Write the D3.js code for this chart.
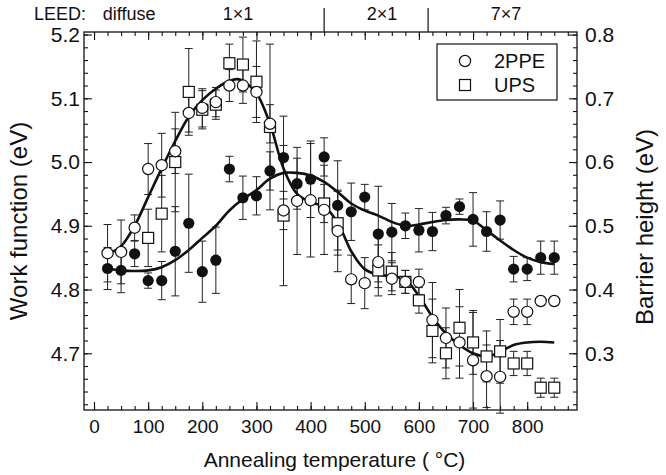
<!DOCTYPE html>
<html>
<head>
<meta charset="utf-8">
<script src="https://cdn.jsdelivr.net/npm/d3@7"></script>
<style>
  body { margin: 0; background: #fff; }
  text { font-family: "Liberation Sans", Arial, sans-serif; fill: #111; }
  .tick text { font-size: 19px; }
  .yaxis .tick text { font-size: 21px; }
  .label { font-size: 20px; }
  .title { font-size: 21px; }
  .vtitle { font-size: 24px; }
  .leed { font-size: 18px; }
</style>
</head>
<body>
<script>
//Global variables
const width = 666;
const height = 475;
const plotLeft = 84, plotRight = 577, plotTop = 32, plotBottom = 410;

//2PPE work function (open circles)
const ppeTemps = [25, 50, 75, 100, 125, 150, 175, 200, 225, 250, 275, 300, 325, 350, 375, 400, 425,
  450, 475, 500, 525, 550, 575, 600, 625, 650, 675, 700, 725, 750, 775, 800, 825, 850];
const ppeValues = [4.857, 4.859, 4.897, 4.989, 4.995, 5.017, 5.077, 5.085, 5.094, 5.12, 5.12, 5.11, 5.06,
  4.924, 4.939, 4.94, 4.925, 4.892, 4.816, 4.81, 4.843, 4.817, 4.812, 4.812, 4.752, 4.724, 4.717,
  4.689, 4.664, 4.663, 4.765, 4.765, 4.782, 4.782];
const ppeErr = [0.045, 0.05, 0.02, 0.04, 0.05, 0.035, 0.03, 0.03, 0.023, 0.025, 0.028, 0.04, 0.03,
  0.03, 0.084, 0.089, 0.07, 0.064, 0.038, 0.04, 0.04, 0.025, 0.018, 0.02, 0.059, 0.047, 0.056,
  0.075, 0.049, 0.057, 0.02, 0.02, 0, 0];

//UPS work function (open squares)
const upsTemps = [100, 125, 150, 175, 200, 225, 250, 275, 300, 325, 350, 425, 450, 525, 550, 575,
  600, 625, 650, 675, 700, 725, 750, 775, 800, 825, 850];
const upsValues = [4.881, 4.919, 5.0, 5.11, 5.082, 5.09, 5.155, 5.153, 5.126, 5.055, 4.916, 4.935,
  4.904, 4.83, 4.828, 4.812, 4.783, 4.735, 4.70, 4.74, 4.717, 4.695, 4.703, 4.684, 4.684, 4.646, 4.646];
const upsErr = [0.045, 0.06, 0.078, 0.068, 0.03, 0.023, 0.03, 0.043, 0.064, 0.13, 0.11, 0.03, 0.05,
  0.04, 0.03, 0.018, 0.02, 0.05, 0.04, 0.06, 0.05, 0.04, 0.05, 0.019, 0.019, 0.015, 0.015];

//Barrier height (filled circles, right axis)
const barrierTemps = ppeTemps;
const barrierValues = [0.433, 0.43, 0.456, 0.414, 0.414, 0.46, 0.504, 0.428, 0.446, 0.589, 0.544,
  0.547, 0.586, 0.607, 0.566, 0.573, 0.608, 0.532, 0.522, 0.545, 0.487, 0.49, 0.50, 0.493, 0.491,
  0.516, 0.53, 0.51, 0.491, 0.509, 0.432, 0.432, 0.45, 0.45];
const barrierErr = [0.033, 0.035, 0.02, 0.012, 0.03, 0.07, 0.077, 0.048, 0.052, 0.02, 0.034, 0.03,
  0.03, 0.065, 0.04, 0.06, 0.03, 0.07, 0.045, 0.02, 0.075, 0.045, 0.02, 0.034, 0.03, 0.013, 0.012,
  0.042, 0.031, 0.03, 0.02, 0.018, 0.026, 0.026];

//Smooth guide curves
const fitWorkTemps = [30, 50, 75, 100, 125, 150, 175, 200, 225, 250, 265, 275, 300, 325, 350, 375, 400,
  425, 450, 475, 500, 525, 550, 575, 600, 625, 650, 675, 700, 725, 750, 775, 800, 825, 850];
const fitWork = [4.857, 4.868, 4.9, 4.945, 4.99, 5.033, 5.071, 5.097, 5.115, 5.127, 5.13, 5.127, 5.108,
  5.06, 4.99, 4.95, 4.937, 4.93, 4.905, 4.86, 4.832, 4.823, 4.821, 4.815, 4.79, 4.757, 4.731, 4.713,
  4.70, 4.695, 4.702, 4.713, 4.717, 4.718, 4.717];
const fitBarrierTemps = [25, 50, 75, 100, 125, 150, 175, 200, 225, 250, 275, 300, 325, 350, 375, 400,
  425, 450, 475, 500, 525, 550, 575, 600, 625, 650, 675, 700, 725, 750, 775, 800, 825, 850];
const fitBarrier = [0.433, 0.43, 0.429, 0.43, 0.435, 0.446, 0.462, 0.481, 0.50, 0.524, 0.542, 0.556,
  0.574, 0.583, 0.583, 0.579, 0.569, 0.553, 0.535, 0.524, 0.516, 0.506, 0.50, 0.502, 0.506, 0.509,
  0.51, 0.508, 0.493, 0.477, 0.462, 0.45, 0.443, 0.44];

//LEED phases along the top
const leedBounds = [425, 617];
const leedNames = ["diffuse", "1×1", "2×1", "7×7"];
const leedCenters = [65, 266, 532, 761];

//Tick values
const xMajor = [0, 100, 200, 300, 400, 500, 600, 700, 800];
const xMinor = d3.range(0, 876, 25);
const yMajor = [4.7, 4.8, 4.9, 5.0, 5.1, 5.2];
const yMinor = d3.range(4.62, 5.201, 0.02);
const bMajor = [0.3, 0.4, 0.5, 0.6, 0.7, 0.8];
const bMinor = d3.range(0.22, 0.801, 0.02);

//Scales
const xScale = d3.scaleLinear().domain([-18.5, 892]).range([plotLeft, plotRight]);
const yScale = d3.scaleLinear().domain([4.611, 5.204]).range([plotBottom, plotTop]);
const bScale = d3.scaleLinear().domain([0.211, 0.804]).range([plotBottom, plotTop]);

//SVG element
const svg = d3.select("body")
  .append("svg")
  .attr("width", width)
  .attr("height", height);

//Axes (ticks point inward)
function addAxis(axis, transform, cls) {
  const g = svg.append("g").attr("class", cls || "").attr("transform", transform).call(axis);
  g.select(".domain").remove();
  g.selectAll(".tick line").attr("stroke", "#111").attr("stroke-width", 1.1);
  return g;
}

addAxis(d3.axisBottom(xScale).tickValues(xMinor).tickSize(-4).tickFormat(""), `translate(0,${plotBottom})`);
addAxis(d3.axisBottom(xScale).tickValues(xMajor).tickSize(-8).tickPadding(10).tickFormat(d3.format("d")),
  `translate(0,${plotBottom})`);
addAxis(d3.axisTop(xScale).tickValues(xMinor).tickSize(-4).tickFormat(""), `translate(0,${plotTop})`);
addAxis(d3.axisTop(xScale).tickValues(xMajor).tickSize(-8).tickFormat(""), `translate(0,${plotTop})`);

addAxis(d3.axisLeft(yScale).tickValues(yMinor).tickSize(-4).tickFormat(""), `translate(${plotLeft},0)`);
addAxis(d3.axisLeft(yScale).tickValues(yMajor).tickSize(-8).tickPadding(4).tickFormat(d3.format(".1f")),
  `translate(${plotLeft},0)`, "yaxis");
addAxis(d3.axisRight(bScale).tickValues(bMinor).tickSize(-4).tickFormat(""), `translate(${plotRight},0)`);
addAxis(d3.axisRight(bScale).tickValues(bMajor).tickSize(-8).tickPadding(8).tickFormat(d3.format(".1f")),
  `translate(${plotRight},0)`, "yaxis");

//Frame
svg.append("rect")
  .attr("x", plotLeft)
  .attr("y", plotTop)
  .attr("width", plotRight - plotLeft)
  .attr("height", plotBottom - plotTop)
  .attr("fill", "none")
  .attr("stroke", "#111")
  .attr("stroke-width", 1.3);

//Build point rows
const ppe = ppeTemps.map((t, i) => ({ t, v: ppeValues[i], e: ppeErr[i] }));
const ups = upsTemps.map((t, i) => ({ t, v: upsValues[i], e: upsErr[i] }));
const barrier = barrierTemps.map((t, i) => ({ t, v: barrierValues[i], e: barrierErr[i] }));

//Error bars
const cap = 4;
function errorBars(rows, scale) {
  const g = svg.append("g").attr("stroke", "#222").attr("stroke-width", 1).attr("fill", "none");
  rows.filter(d => d.e > 0).forEach(d => {
    const x = xScale(d.t), y1 = scale(d.v - d.e), y2 = scale(d.v + d.e);
    g.append("line").attr("x1", x).attr("x2", x).attr("y1", y1).attr("y2", y2);
    g.append("line").attr("x1", x - cap).attr("x2", x + cap).attr("y1", y1).attr("y2", y1);
    g.append("line").attr("x1", x - cap).attr("x2", x + cap).attr("y1", y2).attr("y2", y2);
  });
}
errorBars(ups, yScale);
errorBars(ppe, yScale);
errorBars(barrier, bScale);

//Guide curves
const lineWork = d3.line()
  .x((d, i) => xScale(fitWorkTemps[i]))
  .y(d => yScale(d))
  .curve(d3.curveCatmullRom);

const lineBarrier = d3.line()
  .x((d, i) => xScale(fitBarrierTemps[i]))
  .y(d => bScale(d))
  .curve(d3.curveCatmullRom);

svg.append("path")
  .attr("d", lineWork(fitWork))
  .attr("fill", "none")
  .attr("stroke", "#111")
  .attr("stroke-width", 2.6);

svg.append("path")
  .attr("d", lineBarrier(fitBarrier))
  .attr("fill", "none")
  .attr("stroke", "#111")
  .attr("stroke-width", 2.6);

//Markers
const sq = 11;
svg.append("g").selectAll("rect")
  .data(ups)
  .join("rect")
  .attr("x", d => xScale(d.t) - sq / 2)
  .attr("y", d => yScale(d.v) - sq / 2)
  .attr("width", sq)
  .attr("height", sq)
  .attr("fill", "#fff")
  .attr("stroke", "#111")
  .attr("stroke-width", 1.2);

svg.append("g").selectAll("circle")
  .data(ppe)
  .join("circle")
  .attr("cx", d => xScale(d.t))
  .attr("cy", d => yScale(d.v))
  .attr("r", 5.6)
  .attr("fill", "#fff")
  .attr("stroke", "#111")
  .attr("stroke-width", 1.2);

svg.append("g").selectAll("circle")
  .data(barrier)
  .join("circle")
  .attr("cx", d => xScale(d.t))
  .attr("cy", d => bScale(d.v))
  .attr("r", 5.6)
  .attr("fill", "#111");

//Legend
svg.append("rect")
  .attr("x", 437).attr("y", 44)
  .attr("width", 120).attr("height", 56)
  .attr("fill", "#fff")
  .attr("stroke", "#111")
  .attr("stroke-width", 1.2);

svg.append("circle")
  .attr("cx", 465).attr("cy", 61).attr("r", 5.6)
  .attr("fill", "#fff").attr("stroke", "#111").attr("stroke-width", 1.2);
svg.append("rect")
  .attr("x", 465 - sq / 2).attr("y", 85 - sq / 2).attr("width", sq).attr("height", sq)
  .attr("fill", "#fff").attr("stroke", "#111").attr("stroke-width", 1.2);

svg.append("text").attr("class", "label").attr("x", 494).attr("y", 68).text("2PPE");
svg.append("text").attr("class", "label").attr("x", 494).attr("y", 92).text("UPS");

//LEED row
svg.append("text").attr("class", "leed").attr("x", 34).attr("y", 20).text("LEED:");
svg.selectAll(".leedName")
  .data(leedNames)
  .join("text")
  .attr("class", "leed")
  .attr("x", (d, i) => xScale(leedCenters[i]))
  .attr("y", 20)
  .attr("text-anchor", "middle")
  .text(d => d);

svg.selectAll(".leedBound")
  .data(leedBounds)
  .join("line")
  .attr("x1", d => xScale(d))
  .attr("x2", d => xScale(d))
  .attr("y1", 8)
  .attr("y2", plotTop)
  .attr("stroke", "#111")
  .attr("stroke-width", 1.2);

//Axis labels
svg.append("text")
  .attr("class", "title")
  .attr("x", (plotLeft + plotRight) / 2 + 4)
  .attr("y", 467)
  .attr("text-anchor", "middle")
  .text("Annealing temperature ( \u00B0C)");

svg.append("text")
  .attr("class", "vtitle")
  .attr("transform", `translate(27,${(plotTop + plotBottom) / 2}) rotate(-90)`)
  .attr("text-anchor", "middle")
  .text("Work function (eV)");

svg.append("text")
  .attr("class", "vtitle")
  .attr("transform", `translate(653,${(plotTop + plotBottom) / 2 + 6}) rotate(-90)`)
  .attr("text-anchor", "middle")
  .text("Barrier height (eV)");
</script>
</body>
</html>
